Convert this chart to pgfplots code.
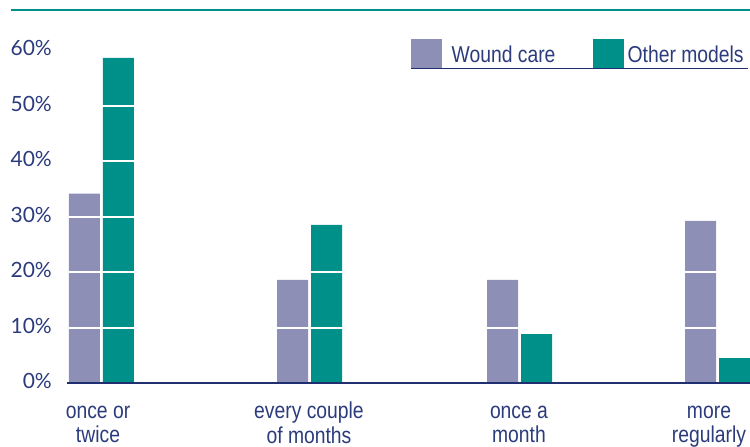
\documentclass[border=0pt]{standalone}
\usepackage{pgfplots}
\pgfplotsset{compat=1.18}
\usepackage{pgfplotstable}
\usepackage{fontspec}
\setmainfont{Liberation Sans}
\newfontfamily\narrowfont{Liberation Sans}[FakeStretch=0.84]
\newfontfamily\numfont{Lato}

\definecolor{navy}{HTML}{2B3B7B}
\definecolor{woundcol}{HTML}{8E8FB6}
\definecolor{othercol}{HTML}{00908A}
\definecolor{rulecol}{HTML}{1F2F6F}

% share of respondents per frequency band
\pgfplotstableread{
pos   wound  other
101.5 34.1   58.6
309.5 18.6   28.5
519.5 18.6   8.8
717.5 29.2   4.5
}\freqdata

\begin{document}
\begin{tikzpicture}
\useasboundingbox (-67pt,-64pt) rectangle (683pt,383pt);
\begin{axis}[
  at={(0pt,0pt)}, anchor=south west,
  scale only axis, width=683pt, height=333pt,
  xmin=67, xmax=750, ymin=0, ymax=60,
  ybar=3pt, bar width=31pt,
  axis on top, clip=false,
  ymajorgrids, grid style={white, line width=2pt},
  ytick={0,10,...,60},
  xtick={98,309,519,709},
  xticklabels={{\strut once or\\twice},{\strut every couple\\of months},{\strut once a\\month},{\strut more\\regularly}},
  major tick length=0pt,
  axis x line*=bottom, axis y line*=left,
  y axis line style={draw=none},
  x axis line style={draw=rulecol, line width=1.2pt, -},
  /pgf/number format/assume math mode=true,
  yticklabel={\pgfmathprintnumber{\tick}\%},
  yticklabel style={font=\numfont\fontsize{21}{21}\selectfont, text=navy, anchor=east, inner sep=0pt, xshift=-15pt, yshift=2pt},
  xticklabel style={font=\narrowfont\fontsize{23}{23}\selectfont, text=navy, align=center, anchor=north, inner sep=0pt, yshift=-18.9pt},
]
\addplot[fill=woundcol, draw=none] table[x=pos, y=wound] {\freqdata};
\addplot[fill=othercol, draw=none] table[x=pos, y=other] {\freqdata};
\end{axis}
% key, set above the plot frame
\fill[woundcol] (344pt,314pt) rectangle (375pt,344pt);
\fill[othercol] (526pt,314pt) rectangle (557pt,344pt);
\draw[rulecol, line width=1pt] (344pt,314pt) -- (681pt,314pt);
\node[anchor=base west, inner sep=0pt, font=\narrowfont\fontsize{23}{23}\selectfont, text=navy] at (384.5pt,320pt) {Wound care};
\node[anchor=base west, inner sep=0pt, font=\narrowfont\fontsize{23}{23}\selectfont, text=navy] at (560.5pt,320pt) {Other models};
% rule across the top
\draw[othercol, line width=2pt] (-56pt,373pt) -- (683pt,373pt);
\end{tikzpicture}
\end{document}
